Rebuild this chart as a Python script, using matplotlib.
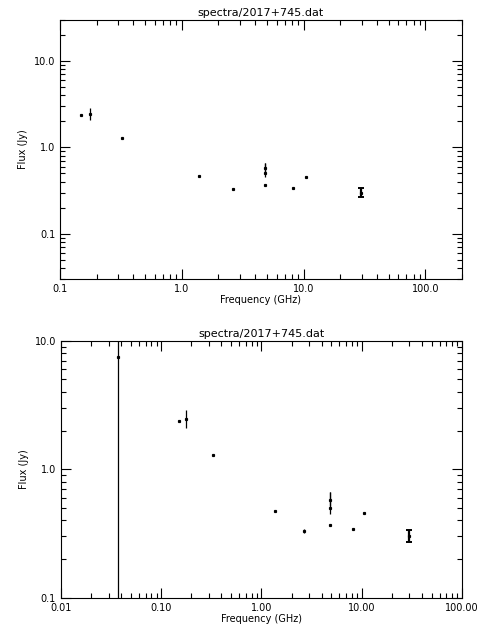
import matplotlib
matplotlib.use("Agg")
import matplotlib.pyplot as plt
from matplotlib.ticker import FormatStrFormatter

# spectrum of 2017+745
freq = [0.037, 0.15, 0.177, 0.326, 1.38, 2.65, 4.82, 4.82, 4.85, 8.2, 10.5, 29.6]
flux = [7.5, 2.36, 2.46, 1.28, 0.47, 0.33, 0.58, 0.50, 0.37, 0.34, 0.46, 0.30]
err_lo = [7.45, 0.0, 0.36, 0.0, 0.0, 0.01, 0.06, 0.05, 0.0, 0.0, 0.0, 0.03]
err_hi = [5.0, 0.0, 0.43, 0.0, 0.0, 0.01, 0.08, 0.16, 0.0, 0.0, 0.0, 0.037]
title = "spectra/2017+745.dat"

plt.rcParams["font.family"] = "DejaVu Sans"
plt.rcParams["font.size"] = 7

fig = plt.figure(figsize=(4.8, 6.4), dpi=100)
ax1 = fig.add_axes([0.125, 0.564, 0.8375, 0.405])
ax2 = fig.add_axes([0.127, 0.066, 0.835, 0.4016])

panels = [(ax1, (0.1, 200), (0.03, 30), "%.1f"),
          (ax2, (0.01, 100), (0.1, 10), "%.2f")]
for ax, xl, yl, xfmt in panels:
    ax.errorbar(freq[:-1], flux[:-1], yerr=[err_lo[:-1], err_hi[:-1]], fmt="s", ms=1.3,
                color="black", ecolor="black", elinewidth=0.9, capsize=0)
    # the 30 GHz point is drawn with end caps in the original
    ax.errorbar(freq[-1:], flux[-1:], yerr=[err_lo[-1:], err_hi[-1:]], fmt="s", ms=1.3,
                color="black", ecolor="black", elinewidth=1.6, capsize=2.5, capthick=1.4)
    ax.set_xscale("log"); ax.set_yscale("log")
    ax.set_xlim(*xl); ax.set_ylim(*yl)
    ax.xaxis.set_major_formatter(FormatStrFormatter(xfmt))
    ax.yaxis.set_major_formatter(FormatStrFormatter("%.1f"))
    ax.xaxis.set_minor_formatter(plt.NullFormatter())
    ax.yaxis.set_minor_formatter(plt.NullFormatter())
    ax.tick_params(which="both", direction="in", top=True, right=True, width=0.8)
    ax.tick_params(which="major", length=7)
    ax.tick_params(which="minor", length=3.5)
    for s in ax.spines.values():
        s.set_linewidth(0.8)
    ax.set_xlabel("Frequency (GHz)", labelpad=1)
    ax.set_ylabel("Flux (Jy)")
    ax.set_title(title, fontsize=8, pad=3)

fig.savefig("out.png", dpi=100)
